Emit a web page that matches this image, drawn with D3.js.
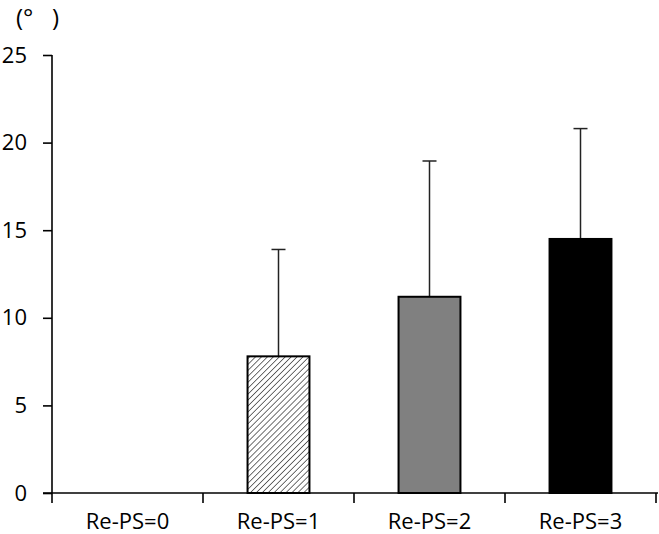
<!DOCTYPE html>
<html>
<head>
<meta charset="utf-8">
<script src="https://cdn.jsdelivr.net/npm/d3@7"></script>
<style>
  html, body { margin: 0; padding: 0; background: #fff; overflow: hidden; }
  svg { display: block; font-family: "Open Sans", sans-serif; }
</style>
</head>
<body>
<div id="container"></div>
<script>
// chart data
const categories = ["Re-PS=0", "Re-PS=1", "Re-PS=2", "Re-PS=3"];
const means = [0, 7.8, 11.2, 14.5];
const sds = [0, 6.1, 7.75, 6.3];
const yTicks = [0, 5, 10, 15, 20, 25];
const fills = ["none", "url(#hatch)", "#808080", "#000"];

document.addEventListener("DOMContentLoaded", function() {
    const width = 659, height = 534;
    const left = 52, right = 656, top = 55, bottom = 493;

    const svg = d3.select("#container").append("svg")
        .attr("width", width)
        .attr("height", height);

    // hatch pattern for the Re-PS=1 bar
    svg.append("defs").append("pattern")
        .attr("id", "hatch")
        .attr("patternUnits", "userSpaceOnUse")
        .attr("width", 4.2)
        .attr("height", 4.2)
        .attr("patternTransform", "rotate(45)")
      .append("line")
        .attr("x1", 0).attr("y1", 0)
        .attr("x2", 0).attr("y2", 4.2)
        .attr("stroke", "#333")
        .attr("stroke-width", 1.4);

    const x = d3.scaleBand().domain(categories).range([left, right]);
    const y = d3.scaleLinear().domain([0, 25]).range([bottom, top]);
    const bw = x.bandwidth() * 0.41;

    const data = categories.map((c, i) => ({c, m: means[i], sd: sds[i], fill: fills[i]}));
    const shown = data.filter(d => d.m > 0);

    // error bars (drawn behind bars)
    const err = svg.append("g").attr("stroke", "#222").attr("stroke-width", 1.5);
    err.selectAll("line.v").data(shown).join("line")
        .attr("class", "v")
        .attr("x1", d => x(d.c) + x.bandwidth() / 2)
        .attr("x2", d => x(d.c) + x.bandwidth() / 2)
        .attr("y1", d => y(d.m))
        .attr("y2", d => y(d.m + d.sd));
    err.selectAll("line.cap").data(shown).join("line")
        .attr("class", "cap")
        .attr("x1", d => x(d.c) + x.bandwidth() / 2 - 7)
        .attr("x2", d => x(d.c) + x.bandwidth() / 2 + 7)
        .attr("y1", d => y(d.m + d.sd))
        .attr("y2", d => y(d.m + d.sd));

    svg.append("g").selectAll("rect").data(shown).join("rect")
        .attr("x", d => x(d.c) + (x.bandwidth() - bw) / 2)
        .attr("y", d => y(d.m))
        .attr("width", bw)
        .attr("height", d => y(0) - y(d.m))
        .attr("fill", d => d.fill)
        .attr("stroke", "#000")
        .attr("stroke-width", 2);

    // y axis
    const yAxis = svg.append("g")
        .attr("transform", `translate(${left},0)`)
        .call(d3.axisLeft(y).tickValues(yTicks).tickSize(9).tickPadding(16).tickSizeOuter(0));
    yAxis.select(".domain").attr("d", `M0,${top}V${bottom + 10}`);
    yAxis.selectAll("line, path").attr("stroke", "#000").attr("stroke-width", 1.6);
    yAxis.selectAll("text").attr("font-size", 22).attr("fill", "#000")
        .attr("font-family", "Open Sans, sans-serif");

    // x axis with ticks at band edges
    const xAxis = svg.append("g").attr("transform", `translate(0,${bottom})`);
    xAxis.append("line")
        .attr("x1", left - 9).attr("x2", right + 2)
        .attr("stroke", "#000").attr("stroke-width", 1.6);
    xAxis.selectAll("line.tk").data(categories).join("line")
        .attr("class", "tk")
        .attr("x1", d => x(d) + x.bandwidth())
        .attr("x2", d => x(d) + x.bandwidth())
        .attr("y1", 0).attr("y2", 10)
        .attr("stroke", "#000").attr("stroke-width", 1.6);
    xAxis.selectAll("text").data(categories).join("text")
        .attr("x", d => x(d) + x.bandwidth() / 2)
        .attr("y", 36)
        .attr("text-anchor", "middle")
        .attr("font-size", 22)
        .text(d => d);

    // unit label
    svg.append("text")
        .attr("x", 16).attr("y", 26)
        .attr("font-size", 24)
        .style("white-space", "pre")
        .text("(°   )");
});
</script>
</body>
</html>
